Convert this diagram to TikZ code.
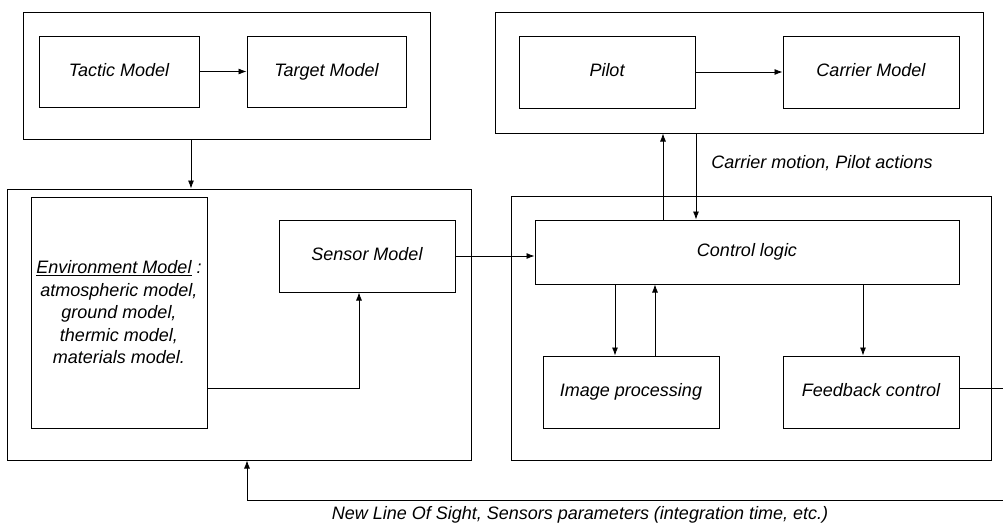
\documentclass[tikz,border=0pt]{standalone}
\usepackage{fontspec}
\setmainfont{Liberation Sans}
\usetikzlibrary{positioning,arrows.meta}

\begin{document}
\begin{tikzpicture}[x=1pt,y=-1pt,
  grp/.style={draw,line width=1pt,inner sep=0pt},
  blk/.style={grp,font=\itshape\fontsize{18}{22.5}\selectfont},
  oneline/.style={blk,text height=13pt,text depth=4pt},
  arr/.style={-{Latex[length=8pt,width=6pt]},line width=0.8pt},
  lnk/.style={line width=0.8pt},
  lbl/.style={font=\itshape\fontsize{18}{22}\selectfont}]
\useasboundingbox (0,0) rectangle (1003,528);
% outer groups
\node[grp,minimum width=407pt,minimum height=127pt](tacticgrp) at (226.5,75.5){};
\node[grp,minimum width=488pt,minimum height=121pt](pilotgrp) at (739,72.5){};
\node[grp,minimum width=464pt,minimum height=271pt](envgrp) at (239,324.5){};
\node[grp,minimum width=480pt,minimum height=264pt](ctrlgrp) at (751,328){};
% blocks
\node[oneline,minimum width=160pt,minimum height=71pt](tactic) at (119,71.5){Tactic Model};
\node[oneline,minimum width=159pt,minimum height=71pt](target) at (326.5,71.5){Target Model};
\node[oneline,minimum width=176pt,minimum height=72pt](pilot) at (607,72){Pilot};
\node[oneline,minimum width=176pt,minimum height=72pt](carrier) at (871,72){Carrier Model};
\node[blk,minimum width=176pt,minimum height=231pt,align=center](env) at (119,312.5){%
  \underline{Environment Model} :\\atmospheric model,\\ground model,\\thermic model,\\materials model.};
\node[oneline,minimum width=176pt,minimum height=72pt](sensor) at (367,256){Sensor Model};
\node[oneline,minimum width=424pt,minimum height=64pt](ctrl) at (747,252){Control logic};
\node[oneline,minimum width=176pt,minimum height=72pt](imgproc) at (631,392){Image processing};
\node[oneline,minimum width=176pt,minimum height=72pt](feedback) at (871,392){Feedback control};
% labels
\node[lbl](motionlbl) at (822,163){Carrier motion, Pilot actions};
\node[lbl](loslbl) at (580,515){New Line Of Sight, Sensors parameters (integration time, etc.)};
% helper coordinates
\coordinate(c1) at (191,0);
\coordinate(c2) at (663,0);
\coordinate(c3) at (696,0);
\coordinate(c4) at (359,0);
\coordinate(c5) at (615,0);
\coordinate(c6) at (655,0);
\coordinate(c7) at (863,0);
\coordinate(c8) at (1003,388);
\coordinate(c9) at (1003,500);
\coordinate(c10) at (247,500);
\coordinate(c11) at (0,388);
% connectors
\path[arr,draw](tactic)--(target);
\path[arr,draw](pilot.east)--(pilot.east-|carrier.west);
\path[arr,draw](c1|-tacticgrp.south)--(c1|-envgrp.north);
\path[arr,draw](c2|-ctrl.north)--(c2|-pilotgrp.south);
\path[arr,draw](c3|-pilotgrp.south)--(c3|-ctrl.north);
\path[arr,draw](sensor.east)--(sensor.east-|ctrl.west);
\path[arr,draw](c11-|env.east)-|(c4|-sensor.south);
\path[arr,draw](c5|-ctrl.south)--(c5|-imgproc.north);
\path[arr,draw](c6|-imgproc.north)--(c6|-ctrl.south);
\path[arr,draw](c7|-ctrl.south)--(c7|-feedback.north);
\path[lnk,draw](c8-|feedback.east)--(c8)--(c9)--(c10);
\path[arr,draw](c10)--(c10|-envgrp.south);
\end{tikzpicture}
\end{document}
